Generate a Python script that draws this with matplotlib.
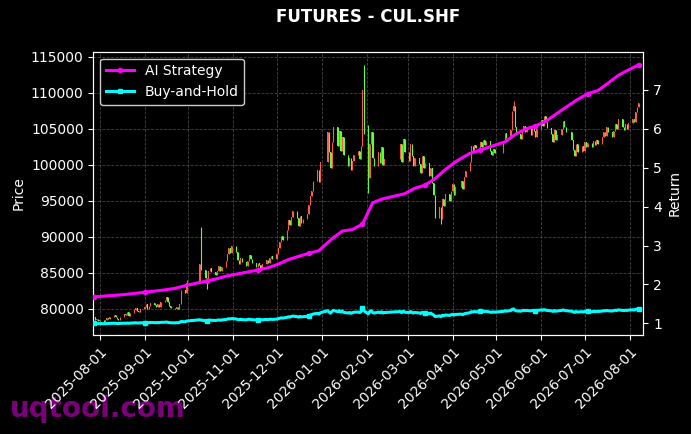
import numpy as np
import pandas as pd
import matplotlib
matplotlib.use("Agg")
import matplotlib.pyplot as plt
import matplotlib.dates as mdates

# daily closes per month
close_jul25 = [78900, 78400, 78600, 78300]
close_aug25 = [78500, 78200, 78400, 78700, 78600, 78900, 79200, 78800, 78600, 78500, 78900,
               79300, 79100, 79500, 79000, 79400, 79800, 80100, 79700, 79600, 79900]
close_sep25 = [80200, 80600, 79900, 80400, 80800, 80500, 80200, 80700, 80300, 80900, 81200,
               81600, 81000, 80400, 80100, 79900, 80300, 80000, 80600, 82600, 82200, 83600]
close_oct25 = [86200, 85400, 84300, 83600, 85200, 85700, 85100, 84700, 85300, 85900, 85200,
               85800, 86700, 87600, 88400, 87800, 88700]
close_nov25 = [87900, 86800, 86200, 87100, 86500, 86000, 86700, 87400, 86900, 86300,
               85800, 86400, 86100, 85700, 86200, 86800, 86300, 87000, 87300, 86900]
close_dec25 = [87600, 88400, 89300, 90100, 89600, 91000, 92300, 91600, 92800, 93600, 92600,
               91500, 92900, 91900, 92400, 93200, 94400, 95600, 96400, 97800, 99300, 97600, 100400]
close_jan26 = [104600, 101800, 99600, 103200, 105200, 102600, 104700, 101900, 103900, 101300,
               99800, 100900, 99300, 100500, 101400, 101900, 100800, 102600, 110400, 104300]
close_feb26 = [98200, 102900, 104600, 100900, 99800, 101700, 100200, 102400, 99900, 100800,
               102900, 100400, 103600, 101700]
close_mar26 = [100500, 102900, 101200, 99800, 101000, 100100, 98900, 101200, 99600, 100300, 98400,
               99600, 97400, 95800, 92600, 94100, 92400, 95200, 94300, 95900, 95000, 96400]
close_apr26 = [97300, 95800, 96900, 97700, 96600, 98300, 99100, 100400, 102600, 101900, 102800,
               102300, 103100, 102400, 103500, 102800, 103300, 101900, 101300, 102200, 101600]
close_may26 = [103200, 104400, 103700, 104800, 107500, 108200, 105300, 104200, 103600, 104900,
               105400, 104600, 105200, 104100, 105300, 104700, 103900, 105000]
close_jun26 = [106200, 105400, 106800, 105900, 105100, 104300, 103200, 104800, 103500, 104100, 105000,
               106100, 105300, 104600, 103500, 102100, 101200, 102900, 101800, 102600, 101900]
close_jul26 = [103200, 102500, 103000, 102400, 103300, 102700, 103400, 102900, 103800, 104600, 104000,
               105200, 104500, 103900, 104700, 105600, 104900, 106300, 105300, 104800, 105600,
               105000, 105800]
close_aug26 = [106400, 105900, 107300, 108000, 108600]

# long wicks
spike_high = {"2025-09-30": 84000, "2025-10-10": 91400, "2026-01-30": 113900,
              "2026-02-02": 105500, "2026-05-13": 108800}
spike_low = {"2025-10-14": 82800, "2026-02-02": 96100, "2026-03-24": 91700}

holidays = ["2025-10-01", "2025-10-02", "2025-10-03", "2025-10-06", "2025-10-07", "2025-10-08",
            "2026-01-01", "2026-01-02", "2026-02-16", "2026-02-17", "2026-02-18", "2026-02-19",
            "2026-02-20", "2026-02-23", "2026-04-06", "2026-05-01", "2026-05-04", "2026-05-05",
            "2026-06-19"]

# AI strategy return, every 5th trading day
ai_return = [1.68, 1.70, 1.72, 1.74, 1.77, 1.80, 1.83, 1.86, 1.90, 1.97,
             2.09, 2.15, 2.22, 2.27, 2.32, 2.37, 2.43, 2.52, 2.64, 2.72,
             2.80, 2.87, 3.17, 3.37, 3.41, 3.55, 4.10, 4.20, 4.33, 4.47,
             4.55, 4.72, 4.95, 5.15, 5.37, 5.45, 5.54, 5.66, 5.85, 5.99,
             6.07, 6.19, 6.37, 6.55, 6.75, 6.90, 6.98, 7.17, 7.37, 7.51, 7.64]

closes = np.array(close_jul25 + close_aug25 + close_sep25 + close_oct25 + close_nov25 + close_dec25
                  + close_jan26 + close_feb26 + close_mar26 + close_apr26 + close_may26
                  + close_jun26 + close_jul26 + close_aug26, dtype=float)

days = pd.bdate_range("2025-07-28", "2026-08-10")
days = days[~days.isin(pd.to_datetime(holidays))][:len(closes)]
x = mdates.date2num(days.to_pydatetime())

opens = np.concatenate([[closes[0]], closes[:-1]])
highs = np.maximum(opens, closes)
lows = np.minimum(opens, closes)
keys = [d.strftime("%Y-%m-%d") for d in days]
for i, k in enumerate(keys):
    if k in spike_high:
        highs[i] = max(highs[i], spike_high[k])
    if k in spike_low:
        lows[i] = min(lows[i], spike_low[k])

bh_return = closes / closes[0]

fig = plt.figure(figsize=(6.91, 4.34), dpi=100, facecolor="black")
ax = fig.add_axes([0.135, 0.228, 0.796, 0.653])
ax.set_facecolor("black")

up = closes >= opens
col_up = "#ff5a45"
col_dn = "#5cff3c"
colors = np.where(up, col_up, col_dn)
ax.vlines(x, lows, highs, colors=colors, linewidth=0.8, zorder=2)
body_h = np.maximum(np.abs(closes - opens), 60)
ax.bar(x, body_h, bottom=np.minimum(opens, closes), width=0.5, color=colors,
       linewidth=0, zorder=3)

ax.set_ylim(76350, 115700)
ax.set_xlim(mdates.date2num(pd.Timestamp("2025-08-01")) - 4.3,
            mdates.date2num(pd.Timestamp("2026-08-01")) + 9.3)
ax.set_ylabel("Price", color="white", fontsize=10)
ax.grid(True, color="#555555", linestyle="--", linewidth=0.6, alpha=0.8)
ax.set_axisbelow(True)

ax.xaxis.set_major_locator(mdates.MonthLocator())
ax.xaxis.set_major_formatter(mdates.DateFormatter("%Y-%m-%d"))
plt.setp(ax.get_xticklabels(), rotation=45, ha="right", rotation_mode="anchor")

ax2 = ax.twinx()
ax2.plot(x[::5], ai_return, color="#ff00ff", linewidth=2.2, marker="o", markersize=3,
         markevery=5, label="AI Strategy", zorder=5)
ax2.plot(x, bh_return, color="#00ffff", linewidth=2.2, marker="s", markersize=3,
         markevery=25, label="Buy-and-Hold", zorder=5)
ax2.set_ylim(0.70, 7.98)
ax2.set_ylabel("Return", color="white", fontsize=10)

for a in (ax, ax2):
    a.tick_params(colors="white", labelsize=10)
    for s in a.spines.values():
        s.set_color("white")

leg = ax2.legend(loc="upper left", fontsize=10, facecolor="black", edgecolor="#cccccc",
                 framealpha=1.0)
for t in leg.get_texts():
    t.set_color("white")

ax.set_title("FUTURES - CUL.SHF", color="white", fontsize=12, fontweight="bold", pad=21)

fig.text(0.015, 0.04, "uqtool.com", color="#8b008b", fontsize=20, fontweight="bold",
         alpha=0.9, zorder=-1)

fig.savefig("out.png", dpi=100, facecolor="black")
